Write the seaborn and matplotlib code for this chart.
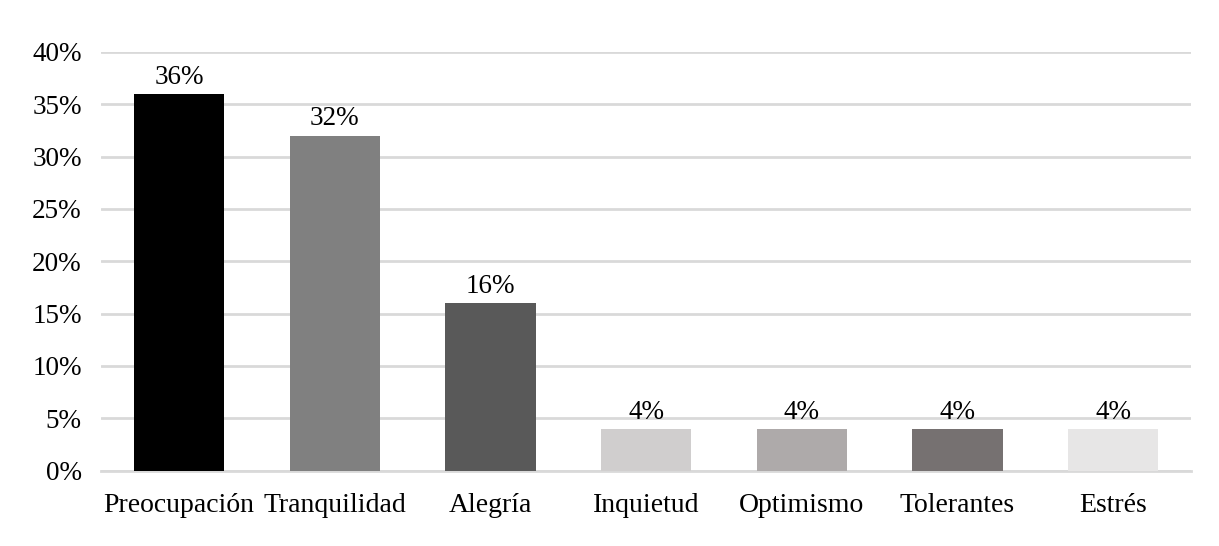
import matplotlib
matplotlib.use("Agg")
import matplotlib.pyplot as plt
import seaborn as sns
import pandas as pd

categories = ["Preocupación", "Tranquilidad", "Alegría", "Inquietud", "Optimismo", "Tolerantes", "Estrés"]
values = [36, 32, 16, 4, 4, 4, 4]
colors = ["#000000", "#808080", "#595959", "#d0cece", "#aeaaaa", "#767171", "#e7e6e6"]
yticks = [0, 5, 10, 15, 20, 25, 30, 35, 40]

sns.set_theme(style="white")
plt.rcParams['font.family'] = ['Liberation Serif', 'DejaVu Serif']
plt.rcParams['text.color'] = 'black'
plt.rcParams['xtick.color'] = 'black'
plt.rcParams['ytick.color'] = 'black'

df = pd.DataFrame({"cat": categories, "val": values})
fig = plt.figure(figsize=(12.19, 5.46), dpi=100)
ax = fig.add_axes([0.083, 0.138, 0.894, 0.767])
sns.barplot(data=df, x="cat", y="val", hue="cat", palette=colors, legend=False,
            width=0.58, ax=ax, zorder=3, saturation=1, linewidth=0)
ax.set_ylim(0, 40)
ax.set_yticks(yticks)
ax.set_yticklabels([f"{t}%" for t in yticks], fontsize=19.5)
ax.tick_params(axis='x', labelsize=20, length=0, pad=16)
ax.tick_params(axis='y', length=0, pad=14)
ax.set_xlabel("")
ax.set_ylabel("")
ax.yaxis.grid(True, color="#d9d9d9", linewidth=2, zorder=0)
for s in ["top", "right", "left"]:
    ax.spines[s].set_visible(False)
ax.spines["bottom"].set_color("#d9d9d9")
ax.spines["bottom"].set_linewidth(2)
for i, v in enumerate(values):
    ax.text(i, v + 0.4, f"{v}%", ha="center", va="bottom", fontsize=19.5, zorder=4)
ax.set_xlim(-0.5, len(categories) - 0.5)
fig.savefig("out.png", dpi=100)
